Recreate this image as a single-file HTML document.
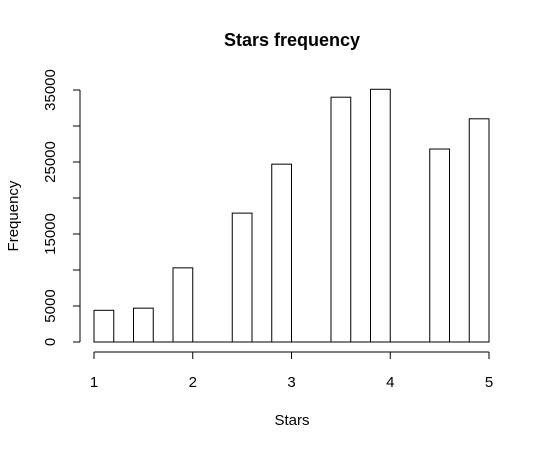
<!DOCTYPE html>
<html><head><meta charset="utf-8"><style>
body{margin:0;background:#fff;}
svg{display:block;font-family:"Liberation Sans",Arial,sans-serif;}
</style></head><body>
<svg id="chart" width="545" height="450">
<text x="292" y="46" text-anchor="middle" font-size="18" font-weight="bold">Stars frequency</text>
<text x="292" y="425" text-anchor="middle" font-size="15">Stars</text>
<text transform="translate(18,216) rotate(-90)" text-anchor="middle" font-size="15">Frequency</text>
<g id="bars"></g><g id="xaxis"></g><g id="yaxis"></g>
</svg>
<script>
const binStarts = [1.0,1.4,1.8,2.4,2.8,3.4,3.8,4.4,4.8];
const counts = [4400,4700,10300,17900,24700,34000,35100,26800,31000];
const binWidth = 0.2;
const xTicks = [1,2,3,4,5];
const yTicks = [0,5000,10000,15000,20000,25000,30000,35000];
const yLabels = ["0","5000","","15000","","25000","","35000"];
const NS="http://www.w3.org/2000/svg";
const xs=v=>94+(v-1)*98.75;
const ys=v=>342-v*0.0072;
function mk(t,a,p){const e=document.createElementNS(NS,t);for(const k in a)e.setAttribute(k,a[k]);p.appendChild(e);return e;}
const bars=document.getElementById('bars');
const base=mk('line',{x1:xs(1),x2:xs(5),y1:ys(0),y2:ys(0),stroke:'#000'},bars);


binStarts.forEach((b,i)=>{
 const r=mk('rect',{x:xs(b),y:ys(counts[i]),width:xs(b+binWidth)-xs(b),height:ys(0)-ys(counts[i]),fill:'#fff',stroke:'#000','stroke-width':1},bars);
 
 
});
const xa=document.getElementById('xaxis');
mk('line',{x1:xs(1),x2:xs(5),y1:352,y2:352,stroke:'#000'},xa);
xTicks.forEach(t=>{
 mk('line',{x1:xs(t),x2:xs(t),y1:352,y2:359,stroke:'#000'},xa);
 const tx=mk('text',{x:xs(t),y:387,'text-anchor':'middle','font-size':15},xa);
 tx.textContent=t;
 
 
});
const ya=document.getElementById('yaxis');
mk('line',{x1:80,x2:80,y1:ys(0),y2:ys(35000),stroke:'#000'},ya);
yTicks.forEach((t,i)=>{
 mk('line',{x1:73,x2:80,y1:ys(t),y2:ys(t),stroke:'#000'},ya);
 if(yLabels[i]){
  const tx=mk('text',{transform:`translate(55,${ys(t)}) rotate(-90)`,'text-anchor':'middle','font-size':15},ya);
  tx.textContent=yLabels[i];
  
  
 }
});
</script>
</body></html>
